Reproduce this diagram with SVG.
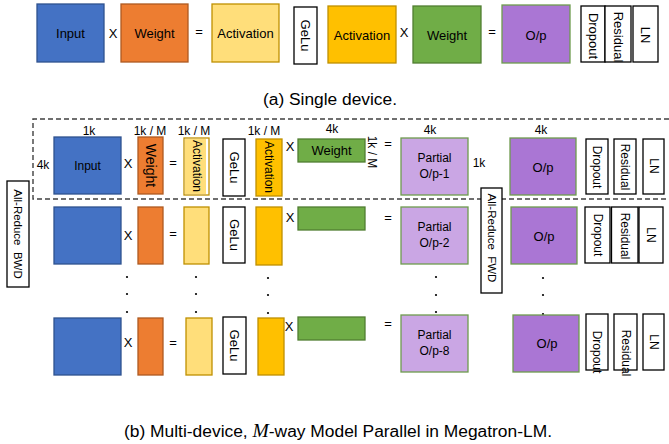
<svg xmlns="http://www.w3.org/2000/svg" width="669" height="444" viewBox="0 0 669 444">
<style>
.t{font-family:"Liberation Sans",Arial,sans-serif;fill:#000;text-anchor:middle;dominant-baseline:central}
.s14{font-size:14px}.s13{font-size:13px}.s12{font-size:12px}.s11{font-size:11.5px}
.b{fill:#4472C4;stroke:#2F528F;stroke-width:1.3}
.o{fill:#ED7D31;stroke:#AE5A21;stroke-width:1.3}
.ly{fill:#FFDE7A;stroke:#BF9000;stroke-width:1.3}
.gd{fill:#FFC000;stroke:#BF9000;stroke-width:1.3}
.g{fill:#70AD47;stroke:#507E32;stroke-width:1.3}
.p{fill:#AA76D4;stroke:#6E9B4E;stroke-width:1.3}
.lp{fill:#CAA6E4;stroke:#6E9B4E;stroke-width:1.3}
.w{fill:#fff;stroke:#000;stroke-width:1.3}
.dot{fill:#000}
.cap{font-family:"Liberation Sans",Arial,sans-serif;font-size:16px;fill:#000}
</style>

<!-- (a) Single device -->
<g id="a-input"><rect class="b" x="37" y="4" width="67" height="58"/><text class="t s13" x="70.5" y="33">Input</text></g>
<g id="a-x1"><text class="t s13" x="113" y="33">X</text></g>
<g id="a-weight"><rect class="o" x="121" y="4" width="67" height="58"/><text class="t s13" x="154.5" y="33">Weight</text></g>
<g id="a-eq1"><text class="t s13" x="199" y="31">=</text></g>
<g id="a-activation"><rect class="ly" x="212" y="4" width="67" height="58"/><text class="t s13" x="245.5" y="33">Activation</text></g>
<g id="a-gelu"><rect class="w" x="294" y="7" width="23" height="57"/><text class="t s13" transform="translate(305.5,35.5) rotate(90)">GeLu</text></g>
<g id="a-activation2"><rect class="gd" x="328" y="6" width="68" height="57"/><text class="t s13" x="362" y="35">Activation</text></g>
<g id="a-x2"><text class="t s13" x="404" y="32">X</text></g>
<g id="a-weight2"><rect class="g" x="413" y="6" width="68" height="57"/><text class="t s13" x="447" y="35">Weight</text></g>
<g id="a-eq2"><text class="t s13" x="492" y="31">=</text></g>
<g id="a-op"><rect class="p" x="502" y="5" width="68" height="58"/><text class="t s13" x="536" y="35">O/p</text></g>
<g id="a-dropout"><rect class="w" x="581" y="6" width="24" height="56"/><text class="t s13" transform="translate(593,36) rotate(90)">Dropout</text></g>
<g id="a-residual"><rect class="w" x="605" y="6" width="26" height="56"/><text class="t s13" transform="translate(618.5,37) rotate(90)">Residual</text></g>
<g id="a-ln"><rect class="w" x="633" y="6" width="25" height="56"/><text class="t s13" transform="translate(645.5,35) rotate(90)">LN</text></g>
<g id="caption-a"><text class="cap" x="263" y="105" textLength="134" lengthAdjust="spacingAndGlyphs">(a) Single device.</text></g>

<!-- (b) frame -->
<g id="device-1-frame"><path d="M669,119 H33 V199 H669" fill="none" stroke="#404040" stroke-width="1.4" stroke-dasharray="5,3"/></g>

<!-- dimension labels -->
<g id="dims">
<text class="t s12" x="89" y="131">1k</text>
<text class="t s12" x="150" y="131">1k / M</text>
<text class="t s12" x="194" y="131">1k / M</text>
<text class="t s12" x="264" y="131">1k / M</text>
<text class="t s12" x="332" y="129">4k</text>
<text class="t s12" x="43" y="165">4k</text>
<text class="t s12" transform="translate(372,152) rotate(90)">1k / M</text>
<text class="t s12" x="430" y="130">4k</text>
<text class="t s12" x="541" y="130">4k</text>
<text class="t s12" x="479" y="163">1k</text>
</g>

<g id="allreduce-bwd"><rect class="w" x="7" y="181" width="22" height="106"/><text class="t s11" xml:space="preserve" transform="translate(18,234) rotate(90)">All-Reduce  BWD</text></g>
<g id="allreduce-fwd"><rect class="w" x="481" y="188" width="21" height="105"/><text class="t s11" xml:space="preserve" transform="translate(491.5,238) rotate(90)">All-Reduce  FWD</text></g>

<!-- Row 1 -->
<g id="r1-input"><rect class="b" x="54" y="137" width="67" height="57"/><text class="t s12" x="87.5" y="165.5">Input</text></g>
<g id="r1-x1"><text class="t s13" x="128" y="163">X</text></g>
<g id="r1-weight"><rect class="o" x="138" y="137" width="25" height="57"/><text class="t s14" transform="translate(150.5,165.5) rotate(90)">Weight</text></g>
<g id="r1-eq1"><text class="t s13" x="173" y="162">=</text></g>
<g id="r1-activation"><rect class="ly" x="184" y="138" width="25" height="57" style="fill:#fff"/><rect x="185" y="139" width="21" height="55" fill="#FFDE7A"/><text class="t s12" transform="translate(196.5,166) rotate(90)">Activation</text></g>
<g id="r1-gelu"><rect class="w" x="223" y="139" width="22" height="57"/><text class="t s13" transform="translate(234,167.5) rotate(90)">GeLu</text></g>
<g id="r1-activation2"><rect class="gd" x="256" y="139" width="26" height="57"/><text class="t s12" transform="translate(269,167) rotate(90)">Activation</text></g>
<g id="r1-x2"><text class="t s13" x="290" y="146">X</text></g>
<g id="r1-weight2"><rect class="g" x="298" y="139" width="67" height="23"/><text class="t s13" x="331.5" y="150.5">Weight</text></g>
<g id="r1-eq2"><text class="t s13" x="388" y="143">=</text></g>
<g id="r1-partial"><rect class="lp" x="401" y="138" width="67" height="57"/><text class="t s12" x="434.5" y="158">Partial</text><text class="t s12" x="434.5" y="174">O/p-1</text></g>
<g id="r1-op"><rect class="p" x="510" y="138" width="66" height="57"/><text class="t s13" x="543" y="167">O/p</text></g>
<g id="r1-dropout"><rect class="w" x="586" y="139" width="22" height="55"/><text class="t s12" transform="translate(597,167) rotate(90)">Dropout</text></g>
<g id="r1-residual"><rect class="w" x="614" y="139" width="22" height="55"/><text class="t s12" transform="translate(625,167) rotate(90)">Residual</text></g>
<g id="r1-ln"><rect class="w" x="643" y="139" width="21" height="55"/><text class="t s12" transform="translate(653.5,166) rotate(90)">LN</text></g>

<!-- Row 2 -->
<g id="r2-input"><rect class="b" x="54" y="207" width="67" height="57"/></g>
<g id="r2-x1"><text class="t s13" x="128" y="235">X</text></g>
<g id="r2-weight"><rect class="o" x="138" y="207" width="25" height="57"/></g>
<g id="r2-eq1"><text class="t s13" x="173" y="233">=</text></g>
<g id="r2-activation"><rect class="ly" x="184" y="207" width="25" height="57"/></g>
<g id="r2-gelu"><rect class="w" x="223" y="207" width="22" height="56"/><text class="t s13" transform="translate(234,235) rotate(90)">GeLu</text></g>
<g id="r2-activation2"><rect class="gd" x="256" y="207" width="26" height="58"/></g>
<g id="r2-x2"><text class="t s13" x="290" y="217">X</text></g>
<g id="r2-weight2"><rect class="g" x="298" y="207" width="67" height="23"/></g>
<g id="r2-eq2"><text class="t s13" x="388" y="217">=</text></g>
<g id="r2-partial"><rect class="lp" x="401" y="207" width="67" height="57"/><text class="t s12" x="434.5" y="227">Partial</text><text class="t s12" x="434.5" y="243">O/p-2</text></g>
<g id="r2-op"><rect class="p" x="511" y="207" width="66" height="57"/><text class="t s13" x="544" y="236">O/p</text></g>
<g id="r2-dropout"><rect class="w" x="585" y="207" width="25" height="56"/><text class="t s12" transform="translate(597.5,235) rotate(90)">Dropout</text></g>
<g id="r2-residual"><rect class="w" x="611.5" y="207" width="26.5" height="56"/><text class="t s12" transform="translate(625,236) rotate(90)">Residual</text></g>
<g id="r2-ln"><rect class="w" x="639" y="207" width="24" height="56"/><text class="t s12" transform="translate(651,235) rotate(90)">LN</text></g>

<!-- dots -->
<g id="ellipsis">
<circle class="dot" cx="127" cy="277" r="1.1"/><circle class="dot" cx="127" cy="294" r="1.1"/><circle class="dot" cx="127" cy="312" r="1.1"/>
<circle class="dot" cx="196" cy="277" r="1.1"/><circle class="dot" cx="196" cy="294" r="1.1"/><circle class="dot" cx="196" cy="312" r="1.1"/>
<circle class="dot" cx="268" cy="278" r="1.1"/><circle class="dot" cx="268" cy="295" r="1.1"/><circle class="dot" cx="268" cy="313" r="1.1"/>
<circle class="dot" cx="436" cy="277" r="1.1"/><circle class="dot" cx="436" cy="295" r="1.1"/><circle class="dot" cx="436" cy="312" r="1.1"/>
<circle class="dot" cx="543" cy="278" r="1.1"/><circle class="dot" cx="543" cy="295" r="1.1"/><circle class="dot" cx="543" cy="314" r="1.1"/>
</g>

<!-- Row 3 -->
<g id="r3-input"><rect class="b" x="54" y="318" width="67" height="57"/></g>
<g id="r3-x1"><text class="t s13" x="128" y="342">X</text></g>
<g id="r3-weight"><rect class="o" x="138" y="318" width="25" height="57"/></g>
<g id="r3-eq1"><text class="t s13" x="173" y="342">=</text></g>
<g id="r3-activation"><rect class="ly" x="186" y="318" width="26" height="57"/></g>
<g id="r3-gelu"><rect class="w" x="223" y="317" width="23" height="57"/><text class="t s13" transform="translate(234.5,345.5) rotate(90)">GeLu</text></g>
<g id="r3-activation2"><rect class="gd" x="258" y="318" width="26" height="57"/></g>
<g id="r3-x2"><text class="t s13" x="289" y="326">X</text></g>
<g id="r3-weight2"><rect class="g" x="298" y="317" width="67" height="23"/></g>
<g id="r3-eq2"><text class="t s13" x="388" y="323">=</text></g>
<g id="r3-partial"><rect class="lp" x="401" y="315" width="67" height="57"/><text class="t s12" x="434.5" y="335">Partial</text><text class="t s12" x="434.5" y="351">O/p-8</text></g>
<g id="r3-op"><rect class="p" x="513" y="315" width="66" height="57"/><text class="t s13" x="547" y="343">O/p</text></g>
<g id="r3-dropout"><rect class="w" x="586" y="314" width="22" height="56"/><text class="t s12" transform="translate(597,352) rotate(90)">Dropout</text></g>
<g id="r3-residual"><rect class="w" x="614" y="314" width="23" height="56"/><text class="t s12" transform="translate(625.5,353) rotate(90)">Residual</text></g>
<g id="r3-ln"><rect class="w" x="643" y="314" width="21" height="56"/><text class="t s12" transform="translate(653.5,342) rotate(90)">LN</text></g>

<g id="caption-b"><text class="cap" x="124" y="437" textLength="428" lengthAdjust="spacingAndGlyphs">(b) Multi-device, <tspan font-family="'Liberation Serif',serif" font-style="italic" font-size="18">M</tspan>-way Model Parallel in Megatron-LM.</text></g>
</svg>
